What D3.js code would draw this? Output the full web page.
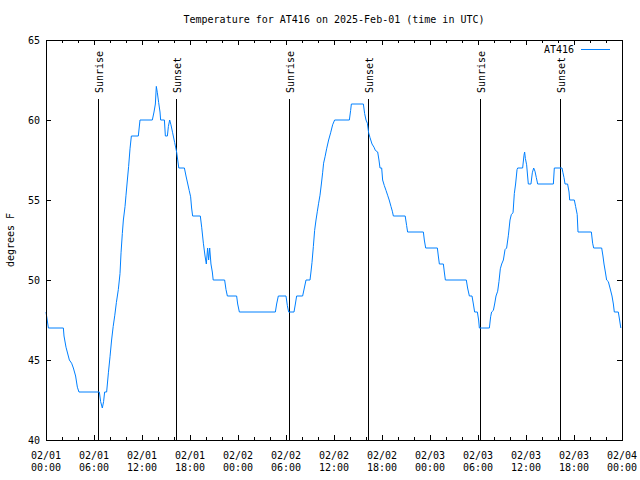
<!DOCTYPE html>
<html>
<head>
<meta charset="utf-8">
<script src="https://cdn.jsdelivr.net/npm/d3@7"></script>
<style>
  html, body { margin: 0; padding: 0; background: #fff; }
  svg { display: block; }
  text { font-family: "DejaVu Sans Mono", "Liberation Mono", monospace; font-size: 10px; fill: #000; }
</style>
</head>
<body>
<svg id="chart" width="640" height="480"></svg>
<script>
// ---- data (hours since 2025-02-01 00:00 UTC, temperature in °F) ----
const hours = [
  0.0, 0.3, 2.17, 2.25, 2.5, 2.92, 3.2, 3.42, 3.7, 3.92, 4.12, 6.67, 6.83, 7.04, 7.2, 7.33, 7.58,
  7.8, 8.0, 8.2, 8.4, 8.6, 8.8, 9.04, 9.25, 9.38, 9.54, 9.67, 9.88, 10.0, 10.17, 10.33, 10.5, 10.67,
  11.54, 11.75, 13.29, 13.5, 13.67, 13.79, 13.92, 14.08, 14.25, 14.33, 14.8, 14.92, 15.17, 15.3,
  15.46, 15.62, 15.83, 16.08, 16.33, 16.6, 17.3, 17.5, 17.9, 18.08, 18.2, 18.33, 19.29, 19.46,
  19.67, 19.88, 20.04, 20.2, 20.33, 20.46, 20.62, 20.79, 20.9, 22.33, 22.5, 22.67, 23.83, 23.96,
  24.17, 28.67, 28.83, 29.04, 30.0, 30.17, 30.33, 31.0, 31.17, 31.33, 32.08, 32.29, 32.5, 33.0,
  33.12, 33.25, 33.42, 33.58, 33.75, 33.92, 34.08, 34.25, 34.42, 34.58, 34.7, 34.88, 35.08, 35.33,
  35.58, 35.83, 36.08, 37.92, 38.08, 38.17, 39.67, 39.83, 40.0, 40.17, 40.33, 40.5, 40.75, 41.0,
  41.17, 41.46, 41.62, 41.75, 41.96, 42.08, 42.29, 42.5, 42.7, 42.9, 43.12, 43.29, 43.42, 44.9,
  45.08, 45.2, 47.17, 47.29, 47.46, 48.92, 49.04, 49.17, 49.67, 49.79, 49.92, 52.54, 52.7, 52.92,
  53.25, 53.42, 53.58, 53.92, 54.08, 54.17, 55.42, 55.58, 55.7, 55.92, 56.08, 56.25, 56.46, 56.62,
  56.79, 56.96, 57.17, 57.38, 57.58, 57.8, 58.0, 58.17, 58.38, 58.54, 58.7, 58.88, 58.96, 59.58,
  59.75, 59.83, 59.92, 60.08, 60.2, 60.29, 60.62, 60.79, 60.96, 61.12, 61.29, 61.46, 63.42, 63.54,
  64.5, 64.62, 64.75, 64.88, 65.2, 65.38, 65.46, 66.04, 66.2, 66.4, 66.5, 68.17, 68.33, 68.46,
  69.46, 69.62, 69.75, 69.92, 70.08, 70.29, 70.5, 70.75, 70.92, 71.04, 71.54, 71.7, 71.85
];
const tempF = [
  48, 47, 47, 46.5, 45.8, 45, 44.8, 44.5, 44, 43.3, 43, 43, 42.4, 42, 42.4, 43, 43,
  44.2, 45.2, 46.25, 47.1, 47.8, 48.6, 49.4, 50.4, 51.7, 52.9, 53.75, 54.6, 55.3, 56.25, 57.1, 58.2, 59,
  59, 60, 60, 60.5, 61, 62.1, 61.7, 61.1, 60.5, 60, 60, 59, 59, 59.6,
  60, 59.7, 59.2, 58.6, 58, 57, 57, 56.5, 55.6, 55.2, 54.5, 54, 54, 53.3,
  52.3, 51.5, 51, 52, 51.25, 52, 51, 50.5, 50, 50, 49.4, 49, 49, 48.5,
  48, 48, 48.5, 49, 49, 48.4, 48, 48, 48.5, 49, 49, 49.5, 50, 50,
  50.5, 51.1, 52.1, 53.1, 53.75, 54.3, 54.8, 55.3, 56, 56.7, 57.3, 57.7, 58.2, 58.75,
  59.2, 59.7, 60, 60, 60.6, 61, 61, 60.4, 60, 59.8, 59.2, 58.9, 58.5, 58.3,
  58.1, 58, 57.5, 57, 57, 56.25, 55.9, 55.6, 55.3, 55, 54.6, 54.3, 54, 54,
  53.4, 53, 53, 52.5, 52, 52, 51.5, 51, 51, 50.5, 50, 50, 49.5, 49,
  49, 48.5, 48, 48, 47.5, 47, 47, 47.7, 48, 48.1, 48.5, 49, 49.3, 49.9,
  50.7, 51, 51.25, 51.9, 52, 52.8, 53.75, 54.1, 54.2, 55.4, 56, 56.9, 57, 57,
  57.8, 58, 57.6, 57.2, 56.5, 56, 56, 56.7, 57, 56.8, 56.4, 56, 56, 57,
  57, 56.7, 56.4, 56, 56, 55.5, 55, 55, 54.6, 54.1, 53, 53, 52.3, 52,
  52, 51.5, 51, 50.5, 50, 49.9, 49.5, 49, 48.5, 48, 48, 47.5, 47
];
const sunriseHours = [6.53, 30.4, 54.3];
const sunsetHours = [16.28, 40.3, 64.3];
const yTicks = [40, 45, 50, 55, 60, 65];
const xTickHours = [0, 6, 12, 18, 24, 30, 36, 42, 48, 54, 60, 66, 72];
const seriesName = "AT416";
const titleText = "Temperature for AT416 on 2025-Feb-01 (time in UTC)";
const yLabel = "degrees F";

// ---- layout ----
const svg = d3.select("#chart");
const L = 46, R = 622, T = 40, B = 440;
const t0 = Date.UTC(2025, 1, 1, 0, 0);
const toDate = h => new Date(t0 + h * 3600e3);

const x = d3.scaleUtc().domain([toDate(0), toDate(72)]).range([L, R]);
const y = d3.scaleLinear().domain([40, 65]).range([B, T]);

const fmtDay = d3.utcFormat("%m/%d");
const fmtTime = d3.utcFormat("%H:%M");

const g = svg.append("g");

// minor x ticks (every 2 hours) bottom & top
const minorHours = d3.range(0, 73, 2).filter(h => h % 6 !== 0);
const ax = g.append("g").attr("shape-rendering", "crispEdges").attr("stroke", "#000").attr("stroke-width", 1);
minorHours.forEach(h => {
  const px = Math.round(x(toDate(h))) + 0.5;
  ax.append("line").attr("x1", px).attr("x2", px).attr("y1", B).attr("y2", B - 3);
  ax.append("line").attr("x1", px).attr("x2", px).attr("y1", T).attr("y2", T + 3);
});
xTickHours.forEach(h => {
  const px = Math.round(x(toDate(h))) + 0.5;
  ax.append("line").attr("x1", px).attr("x2", px).attr("y1", B).attr("y2", B - 5);
  ax.append("line").attr("x1", px).attr("x2", px).attr("y1", T).attr("y2", T + 5);
});
yTicks.forEach(v => {
  const py = Math.round(y(v)) + 0.5;
  ax.append("line").attr("x1", L).attr("x2", L + 5).attr("y1", py).attr("y2", py);
  ax.append("line").attr("x1", R).attr("x2", R - 5).attr("y1", py).attr("y2", py);
});

// x tick labels
xTickHours.forEach(h => {
  const d = toDate(h);
  const px = x(d);
  g.append("text").attr("x", px).attr("y", 459).attr("text-anchor", "middle").text(fmtDay(d));
  g.append("text").attr("x", px).attr("y", 471).attr("text-anchor", "middle").text(fmtTime(d));
});
// y tick labels
yTicks.forEach(v => {
  g.append("text").attr("x", 40).attr("y", y(v) + 4).attr("text-anchor", "end").text(v);
});

// sunrise / sunset lines
const ev = [...sunriseHours.map(h => ({h, name: "Sunrise"})), ...sunsetHours.map(h => ({h, name: "Sunset"}))];
ev.forEach(e => {
  const px = Math.round(x(toDate(e.h))) + 0.5;
  g.append("line").attr("x1", px).attr("x2", px).attr("y1", 99).attr("y2", B)
    .attr("stroke", "#000").attr("shape-rendering", "crispEdges");
  g.append("text").attr("transform", `translate(${px + 4},93) rotate(-90)`)
    .attr("text-anchor", "start").text(e.name);
});

// data line
const pts = hours.map((h, i) => [toDate(h), tempF[i]]);
g.append("path").datum(pts)
  .attr("fill", "none").attr("stroke", "#0080ff").attr("stroke-width", 1)
  .attr("d", d3.line().x(d => x(d[0])).y(d => y(d[1])));

// border
g.append("rect").attr("x", L + 0.5).attr("y", T + 0.5).attr("width", R - L).attr("height", B - T)
  .attr("fill", "none").attr("stroke", "#000").attr("shape-rendering", "crispEdges");

// legend
g.append("text").attr("x", 574).attr("y", 53).attr("text-anchor", "end").text(seriesName);
g.append("line").attr("x1", 581).attr("x2", 610).attr("y1", 49.5).attr("y2", 49.5)
  .attr("stroke", "#0080ff").attr("shape-rendering", "crispEdges");

// title and y label
g.append("text").attr("x", (L + R) / 2).attr("y", 23).attr("text-anchor", "middle").text(titleText);
g.append("text").attr("transform", `translate(14,${(T + B) / 2}) rotate(-90)`)
  .attr("text-anchor", "middle").text(yLabel);
</script>
</body>
</html>
